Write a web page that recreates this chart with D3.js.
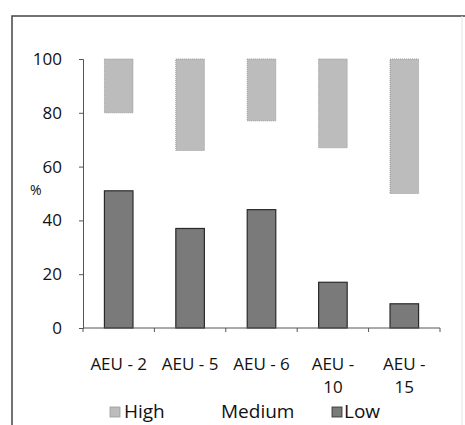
<!DOCTYPE html>
<html>
<head>
<meta charset="UTF-8">
<script src="https://d3js.org/d3.v7.min.js"></script>
<style>
  body { margin: 0; padding: 0; background: #fff; }
  svg { display: block; font-family: "Open Sans", sans-serif; }
</style>
</head>
<body>
<svg id="chart" width="465" height="425"></svg>
<script>
const categories = [["AEU - 2"], ["AEU - 5"], ["AEU - 6"], ["AEU -", "10"], ["AEU -", "15"]];
const lowValues = [51, 37, 44, 17, 9];
const mediumValues = [29, 29, 33, 50, 41];
const highValues = [20, 34, 23, 33, 50];
const yTicks = [0, 20, 40, 60, 80, 100];

const svg = d3.select("#chart");
const margin = {left: 83, top: 59, right: 25, bottom: 97};
const W = 465, H = 425;

const x = d3.scaleBand().domain(d3.range(categories.length))
  .range([margin.left, W - margin.right]).paddingInner(0.6).paddingOuter(0.3);
const xTicks = d3.scaleBand().domain(d3.range(categories.length))
  .range([margin.left, W - margin.right]);
const y = d3.scaleLinear().domain([0, 100]).range([H - margin.bottom, margin.top]);

// outer frame
svg.append("path")
  .attr("d", `M12,425 L12,16 L465,16`)
  .attr("fill", "none").attr("stroke", "#444").attr("stroke-width", 1.5);
svg.append("line").attr("x1", 462).attr("x2", 462).attr("y1", 16).attr("y2", 425)
  .attr("stroke", "#e4e4e4");

// stacks
const stacked = categories.map((c, i) => ({
  i, low: lowValues[i], medium: mediumValues[i], high: highValues[i]
}));

const g = svg.append("g");
g.selectAll(".low").data(stacked).enter().append("rect")
  .attr("x", d => x(d.i)).attr("width", x.bandwidth())
  .attr("y", d => y(d.low)).attr("height", d => y(0) - y(d.low))
  .attr("fill", "#7a7a7a").attr("stroke", "#2a2a2a").attr("stroke-width", 1.2);

g.selectAll(".high").data(stacked).enter().append("rect")
  .attr("x", d => x(d.i)).attr("width", x.bandwidth())
  .attr("y", d => y(d.low + d.medium + d.high))
  .attr("height", d => y(d.low + d.medium) - y(d.low + d.medium + d.high))
  .attr("fill", "#bcbcbc").attr("stroke", "#999").attr("stroke-width", 1)
  .attr("stroke-dasharray", "1,1");

// axes
const yAxis = svg.append("g").attr("transform", `translate(${margin.left},0)`)
  .call(d3.axisLeft(y).tickValues(yTicks).tickSize(4).tickPadding(17));
yAxis.select(".domain").attr("stroke", "#555");
yAxis.selectAll(".tick line").attr("stroke", "#555");
yAxis.selectAll("text").attr("font-size", 17).attr("fill", "#111")
  .attr("font-family", "Open Sans, sans-serif");

const xAxis = svg.append("g").attr("transform", `translate(0,${y(0)})`);
xAxis.append("line").attr("x1", margin.left).attr("x2", W - margin.right)
  .attr("stroke", "#555");
xAxis.selectAll(".xt").data(d3.range(categories.length + 1)).enter().append("line")
  .attr("x1", d => margin.left + d * xTicks.bandwidth())
  .attr("x2", d => margin.left + d * xTicks.bandwidth())
  .attr("y1", 0).attr("y2", 4).attr("stroke", "#555");

const labels = svg.append("g");
categories.forEach((lines, i) => {
  lines.forEach((t, k) => {
    labels.append("text")
      .attr("x", xTicks(i) + xTicks.bandwidth() / 2)
      .attr("y", 370 + k * 23)
      .attr("text-anchor", "middle")
      .attr("font-size", 17).attr("fill", "#111")
      .text(t);
  });
});

// y title
svg.append("text").attr("x", 30).attr("y", 195).attr("font-size", 14)
  .attr("fill", "#111").text("%");

// legend
const legend = [
  {name: "High", fill: "#bcbcbc", stroke: "#999", sx: 110, tx: 124},
  {name: "Medium", fill: "none", stroke: "none", sx: 0, tx: 221},
  {name: "Low", fill: "#7a7a7a", stroke: "#2a2a2a", sx: 332, tx: 344}
];
const lg = svg.append("g");
legend.forEach(d => {
  if (d.fill !== "none") {
    lg.append("rect").attr("x", d.sx).attr("y", 407).attr("width", 10).attr("height", 10)
      .attr("fill", d.fill).attr("stroke", d.stroke).attr("stroke-width", 0.8);
  }
  lg.append("text").attr("x", d.tx).attr("y", 418).attr("font-size", 19)
    .attr("fill", "#111").text(d.name);
});
</script>
</body>
</html>
